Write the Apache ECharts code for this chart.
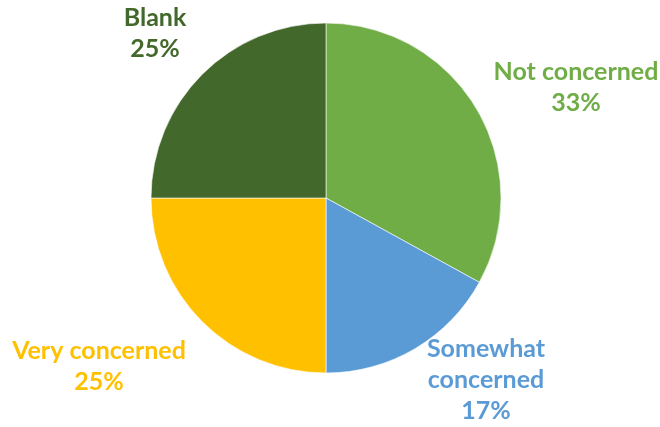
<!DOCTYPE html>
<html>
<head>
<meta charset="utf-8">
<script src="https://cdn.jsdelivr.net/npm/echarts@6/dist/echarts.min.js"></script>
<style>html,body{margin:0;padding:0;background:#fff;}#c{width:660px;height:427px;}</style>
</head>
<body>
<div id="c"></div>
<script>
const categories = ['Not concerned', 'Somewhat concerned', 'Very concerned', 'Blank'];
const labelNames = ['Not concerned', 'Somewhat\nconcerned', 'Very concerned', 'Blank'];
const values = [33, 17, 25, 25];
const percentLabels = ['33%', '17%', '25%', '25%'];
const colors = ['#70AD47', '#5B9BD5', '#FFC000', '#43682B'];
const labelPos = [[576, 87], [486, 380], [99, 366], [155, 33]];

const chart = echarts.init(document.getElementById('c'), null, {renderer: 'canvas'});
chart.setOption({
  animation: false,
  series: [{
    type: 'pie',
    center: [326, 198],
    radius: [0, 175],
    startAngle: 90,
    clockwise: true,
    itemStyle: {borderColor: '#fff', borderWidth: 0.6},
    label: {
      show: true,
      position: 'outside',
      fontFamily: 'Lato',
      fontWeight: 'bold',
      fontSize: 25,
      lineHeight: 31,
      align: 'center',
      overflow: 'none',
      width: 400,
      formatter: p => labelNames[p.dataIndex] + '\n' + percentLabels[p.dataIndex]
    },
    labelLine: {show: false},
    labelLayout: p => ({x: labelPos[p.dataIndex][0], y: labelPos[p.dataIndex][1], align: 'center', verticalAlign: 'middle', hideOverlap: false}),
    data: categories.map((c, i) => ({
      name: c, value: values[i],
      itemStyle: {color: colors[i]},
      label: {color: colors[i]}
    }))
  }]
});
</script>
</body>
</html>
